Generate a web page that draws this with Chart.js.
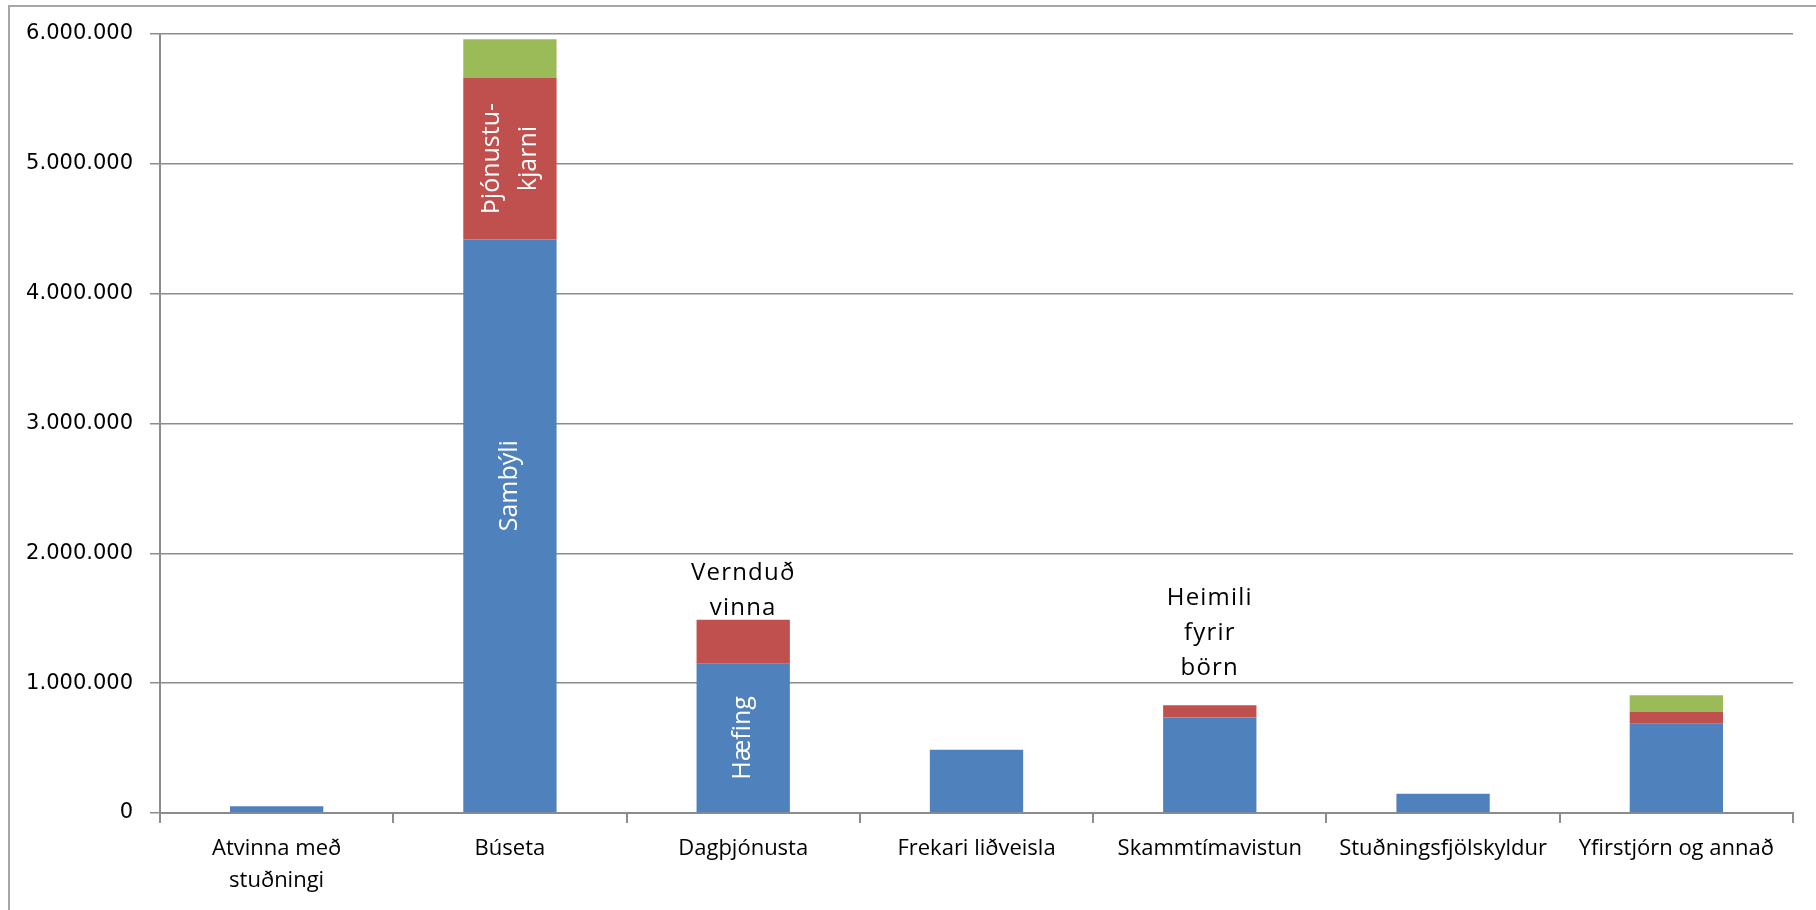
<!DOCTYPE html>
<html>
<head>
<meta charset="utf-8">
<script src="https://cdn.jsdelivr.net/npm/chart.js@4.4.0/dist/chart.umd.min.js"></script>
<style>
html,body{margin:0;background:#fff}
#wrap{width:1816px;height:910px;position:relative}
</style>
</head>
<body>
<div id="wrap"><canvas id="c"></canvas></div>
<script>
/* DATA */
const categories=[['Atvinna með','stuðningi'],'Búseta','Dagþjónusta','Frekari liðveisla','Skammtímavistun','Stuðningsfjölskyldur','Yfirstjórn og annað'];
const blueValues=[52000,4418000,1150000,487000,736000,148000,687000];
const redValues=[0,1245000,339000,0,93000,0,90000];
const greenValues=[0,297000,0,0,0,0,129000];
const yMax=6000000;
const yStep=1000000;

/* segment labels: dataset, category, text */
const segLabelDataset=[0,1,0,1,1];
const segLabelIndex=[1,1,2,2,4];
const segLabelText=[['Sambýli'],['Þjónustu-','kjarni'],['Hæfing'],['Vernduð','vinna'],['Heimili','fyrir','börn']];

/* label placement (style, not data) */
const segLabelStyle=[
 {inside:true,frac:0.57},
 {inside:true,frac:0.5},
 {inside:true,frac:0.5},
 {inside:false,gap:12},
 {inside:false,gap:37}
];

const GRID='#8c8c8c';
const fmt=v=>String(v).replace(/\B(?=(\d{3})+(?!\d))/g,'.');

/* PLUGINS */
const frame={
 id:'frame',
 beforeDraw(chart){
  const ctx=chart.ctx;
  ctx.save();
  ctx.strokeStyle='#a6a6a6';
  ctx.lineWidth=2;
  ctx.beginPath();
  ctx.moveTo(9,chart.height);
  ctx.lineTo(9,6);
  ctx.lineTo(chart.width,6);
  ctx.stroke();
  ctx.restore();
 }
};

const segLabels={
 id:'segLabels',
 afterDatasetsDraw(chart){
  const ctx=chart.ctx;
  segLabelText.forEach((lines,k)=>{
   const el=chart.getDatasetMeta(segLabelDataset[k]).data[segLabelIndex[k]];
   const st=segLabelStyle[k];
   ctx.save();
   ctx.textAlign='center';
   ctx.textBaseline='middle';
   if(st.inside){
    ctx.fillStyle='#fff';
    ctx.font='25px "Open Sans"';
    const cy=el.base-(el.base-el.y)*st.frac;
    ctx.translate(el.x,cy);
    ctx.rotate(-Math.PI/2);
    const lh=37,n=lines.length;
    lines.forEach((t,j)=>ctx.fillText(t,0,(j-(n-1)/2)*lh));
   } else {
    ctx.fillStyle='#000';
    ctx.font='24px "Open Sans"';
    ctx.letterSpacing='1.2px';
    const lh=35,n=lines.length;
    lines.forEach((t,j)=>ctx.fillText(t,el.x,el.y-st.gap-(n-1-j)*lh));
   }
   ctx.restore();
  });
 }
};

/* CHART */
new Chart(document.getElementById('c'),{
 type:'bar',
 data:{
  labels:categories,
  datasets:[
   {data:blueValues,backgroundColor:'#4F81BD'},
   {data:redValues,backgroundColor:'#C0504D'},
   {data:greenValues,backgroundColor:'#9BBB59'}
  ]
 },
 options:{
  responsive:true,
  maintainAspectRatio:false,
  animation:false,
  barPercentage:0.4,
  categoryPercentage:1,
  layout:{padding:{top:34,right:23,left:0,bottom:0}},
  plugins:{legend:{display:false},tooltip:{enabled:false}},
  scales:{
   x:{
    stacked:true,
    offset:true,
    grid:{offset:true,drawOnChartArea:false,drawTicks:true,tickLength:10,color:GRID,lineWidth:2},
    border:{color:GRID,width:2},
    ticks:{color:'#000',font:{family:'Open Sans',size:22,lineHeight:1.45},padding:10,maxRotation:0,autoSkip:false},
    afterFit(s){s.height=97;}
   },
   y:{
    stacked:true,
    min:0,
    max:yMax,
    ticks:{stepSize:yStep,color:'#000',font:{family:'DejaVu Sans',size:21},padding:17,callback:v=>fmt(v)},
    grid:{color:GRID,lineWidth:1.5,tickLength:10},
    border:{color:GRID,width:2},
    afterFit(s){s.width=160;}
   }
  }
 },
 plugins:[frame,segLabels]
});
</script>
</body>
</html>
